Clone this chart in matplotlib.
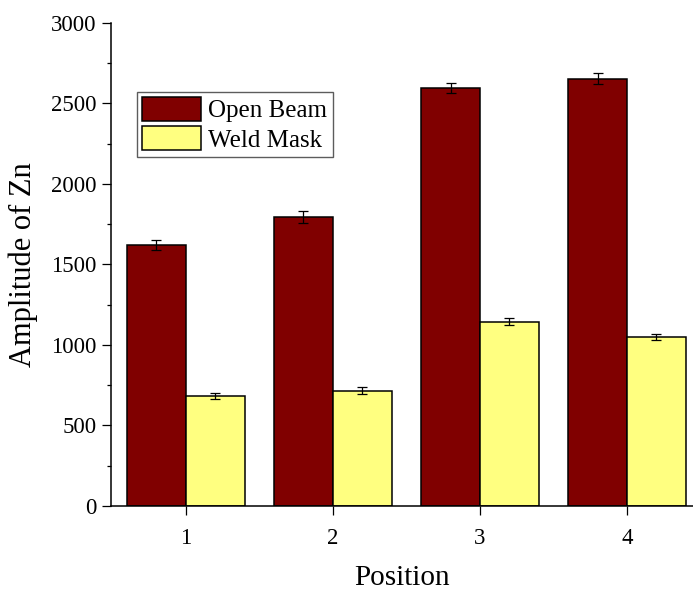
import matplotlib
matplotlib.use('Agg')
import matplotlib.pyplot as plt
import numpy as np
from matplotlib.ticker import MultipleLocator

# ── Data ──────────────────────────────────────────────────────────────────────
positions   = [1, 2, 3, 4]
open_beam   = [1619, 1792, 2597, 2652]
open_err    = [31, 37, 31, 33]
weld_mask   = [685, 716, 1144, 1051]
weld_err    = [19, 20, 21, 18]
series_names = ['Open Beam', 'Weld Mask']

plt.rcParams['font.family'] = ['Liberation Serif', 'DejaVu Serif']

fig = plt.figure(figsize=(6.93, 5.93), dpi=100)
ax = fig.add_axes([0.160, 0.1467, 0.840, 0.815])

x = np.array(positions, dtype=float)
width = 0.4
err_kw = dict(ecolor='black', elinewidth=0.9, capsize=3.4, capthick=0.9)

ax.bar(x - width / 2, open_beam, width, yerr=open_err, color='#800000',
       edgecolor='black', linewidth=1.1, label=series_names[0], error_kw=err_kw)
ax.bar(x + width / 2, weld_mask, width, yerr=weld_err, color='#FFFF80',
       edgecolor='black', linewidth=1.1, label=series_names[1], error_kw=err_kw)

ax.set_xlim(0.49, 4.449)
ax.set_ylim(0, 3000)
ax.set_xticks(positions)
ax.yaxis.set_major_locator(MultipleLocator(500))
ax.yaxis.set_minor_locator(MultipleLocator(250))

for side in ('top', 'right'):
    ax.spines[side].set_visible(False)
for side in ('left', 'bottom'):
    ax.spines[side].set_linewidth(1.1)

ax.tick_params(which='major', direction='out', length=6.5, width=0.9, labelsize=16.5)
ax.tick_params(axis='y', which='major', pad=4)
ax.tick_params(axis='x', which='major', pad=9)
ax.tick_params(which='minor', direction='out', length=3.2, width=0.9)
ax.tick_params(axis='x', which='minor', bottom=False)

ax.set_xlabel('Position', fontsize=21, labelpad=12)
ax.set_ylabel('Amplitude of Zn', fontsize=22, labelpad=9)

leg = ax.legend(loc='upper left', bbox_to_anchor=(137 / 693, 1 - 91.7 / 593),
                bbox_transform=fig.transFigure, fontsize=18, frameon=True,
                fancybox=False, borderaxespad=0, borderpad=0.2,
                handlelength=2.36, handleheight=1.12, handletextpad=0.3,
                labelspacing=0.15)
leg.get_frame().set_edgecolor('#333333')
leg.get_frame().set_linewidth(1.0)

fig.savefig('out.png', dpi=100)
